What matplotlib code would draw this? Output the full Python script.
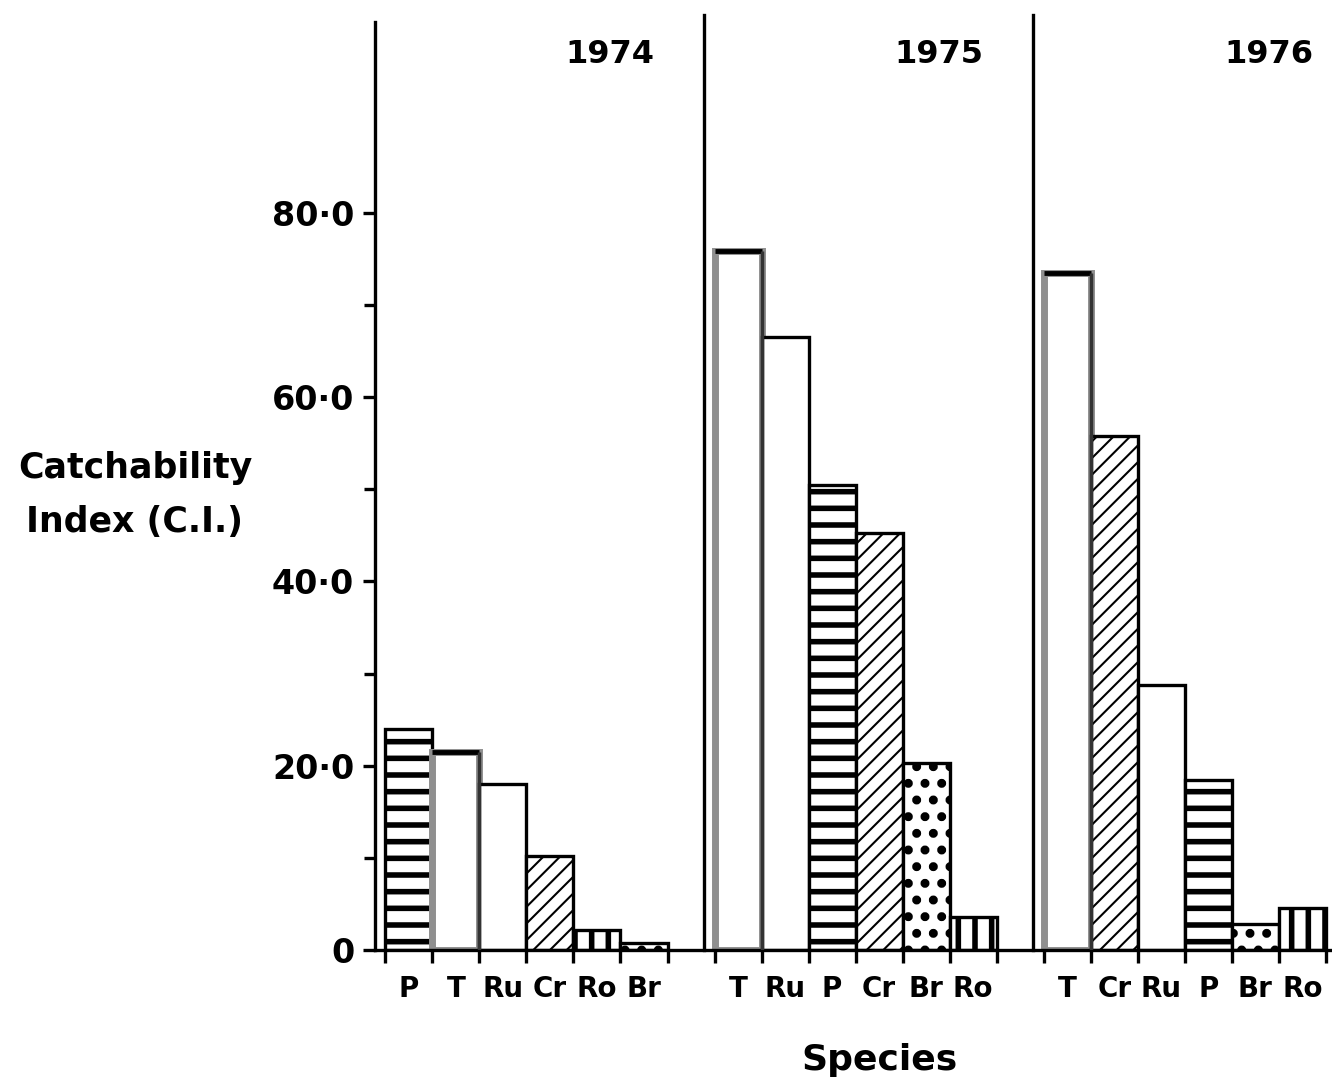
import numpy as np
import matplotlib.pyplot as plt

# --- data -----------------------------------------------------------------
years = ['1974', '1975', '1976']
species_1974 = ['P', 'T', 'Ru', 'Cr', 'Ro', 'Br']
ci_1974 = [24.0, 21.5, 18.0, 10.2, 2.2, 0.8]
species_1975 = ['T', 'Ru', 'P', 'Cr', 'Br', 'Ro']
ci_1975 = [75.8, 66.5, 50.5, 45.3, 20.3, 3.6]
species_1976 = ['T', 'Cr', 'Ru', 'P', 'Br', 'Ro']
ci_1976 = [73.5, 55.8, 28.8, 18.5, 2.8, 4.6]

y_major = [0, 20, 40, 60, 80]
y_major_labels = ['0', '20·0', '40·0', '60·0', '80·0']
y_minor = [10, 30, 50, 70]

# hatch style per species
style = {
    'P':  dict(hatch='-', hlw=4.0, ec='black'),
    'T':  dict(hatch=None, hlw=1.0, ec='#8f8f8f'),
    'Ru': dict(hatch=None, hlw=1.0, ec='black'),
    'Cr': dict(hatch='//', hlw=1.5, ec='black'),
    'Ro': dict(hatch='|', hlw=4.0, ec='black'),
    'Br': dict(hatch='.', hlw=4.0, ec='black'),
}

plt.rcParams['font.family'] = 'DejaVu Sans'
plt.rcParams['font.weight'] = 'bold'
fig = plt.figure(figsize=(13.32, 10.8), dpi=100)
ax = fig.add_axes([375 / 1332, 130 / 1080, 957 / 1332, 928 / 1080])

panel_gap = 7.0
bar_off = 0.22
lw = 2.4

centers, edges, labels = [], [], []
for k, (sp, vals) in enumerate(zip([species_1974, species_1975, species_1976],
                                   [ci_1974, ci_1975, ci_1976])):
    x0 = k * panel_gap + bar_off
    for i, (s, v) in enumerate(zip(sp, vals)):
        st = style[s]
        x = x0 + i
        with plt.rc_context({'hatch.linewidth': st['hlw']}):
            b = ax.bar(x, v, width=1.0, align='edge', color='white',
                       edgecolor=st['ec'], linewidth=lw if s != 'T' else 5.0,
                       hatch=st['hatch'], zorder=2)
        for p in b:
            if hasattr(p, 'set_hatch_linewidth'):
                p.set_hatch_linewidth(st['hlw'])
        if s == 'T':
            ax.hlines(v, x, x + 1.0, color='black', lw=3.5, zorder=3)
            ax.vlines(x + 1.0, 0, v, color='#333333', lw=2.5, zorder=3)
        centers.append(x + 0.5)
        labels.append(s)
    edges.extend(list(x0 + np.arange(len(sp) + 1)))
    if k > 0:
        ax.axvline(k * panel_gap, ymax=1.008, clip_on=False, color='black',
                   lw=lw, zorder=3)
    ax.text(k * panel_gap + 5.0, 97.2, years[k], ha='center', va='center',
            fontsize=23)

ax.set_xlim(0, 20.35)
ax.set_ylim(0, 100.7)

for side in ['top', 'right']:
    ax.spines[side].set_visible(False)
ax.spines['left'].set_linewidth(lw)
ax.spines['bottom'].set_linewidth(lw)

ax.set_yticks(y_major)
ax.set_yticklabels(y_major_labels, fontsize=24)
ax.set_yticks(y_minor, minor=True)
ax.tick_params(axis='y', which='major', length=9, width=lw, pad=6)
ax.tick_params(axis='y', which='minor', length=8, width=lw)

ax.set_xticks(centers)
ax.set_xticklabels(labels, fontsize=20)
ax.set_xticks(edges, minor=True)
ax.tick_params(axis='x', which='major', length=0, pad=18)
ax.tick_params(axis='x', which='minor', length=9, width=lw)

fig.text(135 / 1332, 1 - 495 / 1080, 'Catchability\nIndex (C.I.)',
         ha='center', va='center', fontsize=25, linespacing=1.75)
fig.text(880 / 1332, 1 - 1060 / 1080, 'Species', ha='center', va='center',
         fontsize=26)

fig.savefig('out.png', dpi=100, facecolor='white')
